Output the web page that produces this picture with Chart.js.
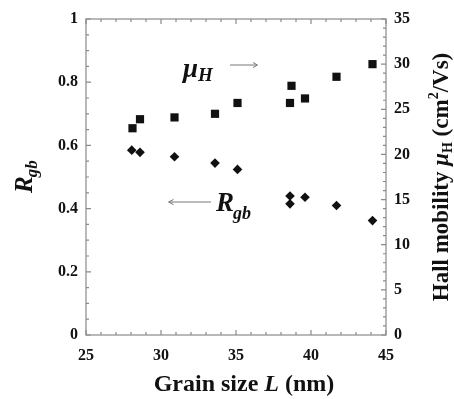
<!DOCTYPE html>
<html><head><meta charset="utf-8">
<script src="https://cdn.jsdelivr.net/npm/chart.js@4.4.1/dist/chart.umd.min.js"></script>
<style>html,body{margin:0;padding:0;background:#fff}#wrap{width:454px;height:399px}</style>
</head><body><div id="wrap"><canvas id="c" width="454" height="399"></canvas></div>
<script>
// Grain size L (nm)
const grainSize = [28.1, 28.6, 30.9, 33.6, 35.1, 38.6, 38.7, 39.6, 41.7, 44.1];
// Hall mobility (cm^2/Vs), right axis
const mobility = [22.9, 23.9, 24.1, 24.5, 25.7, 25.7, 27.6, 26.2, 28.6, 30.0];
// grain-boundary ratio R_gb, left axis
const grainSizeR = [28.05, 28.6, 30.9, 33.6, 35.1, 38.6, 38.6, 39.6, 41.7, 44.1];
const rgb = [0.585, 0.578, 0.564, 0.544, 0.524, 0.440, 0.415, 0.436, 0.410, 0.362];
const xTicks = [25, 30, 35, 40, 45];
const leftTicks = [0, 0.2, 0.4, 0.6, 0.8, 1];
const rightTicks = [0, 5, 10, 15, 20, 25, 30, 35];

const SERIF = '"Liberation Serif","Times New Roman",serif';
const FRAME = '#8a8a8a';

const framePlugin = {
  id: 'frame',
  afterDraw(chart) {
    const ctx = chart.ctx, a = chart.chartArea;
    const sx = chart.scales.x, sy = chart.scales.y, sy2 = chart.scales.y2;
    ctx.save();
    ctx.strokeStyle = FRAME; ctx.lineWidth = 1.2;
    ctx.strokeRect(a.left, a.top, a.right - a.left, a.bottom - a.top);
    ctx.beginPath();
    for (let v = 25; v <= 45.001; v += 1) {
      const p = sx.getPixelForValue(v);
      const len = (Math.abs(v % 5) < 0.01) ? 5 : 3;
      ctx.moveTo(p, a.bottom); ctx.lineTo(p, a.bottom - len);
      ctx.moveTo(p, a.top); ctx.lineTo(p, a.top + len);
    }
    for (let i = 0; i <= 20; i++) {
      const v = i * 0.05, p = sy.getPixelForValue(v);
      const len = (i % 4 === 0) ? 5 : 3;
      ctx.moveTo(a.left, p); ctx.lineTo(a.left + len, p);
    }
    for (let v = 0; v <= 35; v++) {
      const p = sy2.getPixelForValue(v);
      const len = (v % 5 === 0) ? 5 : 3;
      ctx.moveTo(a.right, p); ctx.lineTo(a.right - len, p);
    }
    ctx.stroke();

    // axis titles
    ctx.fillStyle = '#111';
    ctx.textBaseline = 'alphabetic';
    // x title
    const parts = [
      {t: 'Grain size ', f: 'bold 24px ' + SERIF},
      {t: 'L', f: 'italic bold 24px ' + SERIF},
      {t: ' (nm)', f: 'bold 24px ' + SERIF}
    ];
    let w = 0;
    parts.forEach(p => { ctx.font = p.f; p.w = ctx.measureText(p.t).width; w += p.w; });
    let x = 244 - w / 2;
    parts.forEach(p => { ctx.font = p.f; ctx.fillText(p.t, x, 391); x += p.w; });

    // left title R_gb
    ctx.save();
    ctx.translate(32, 193);
    ctx.rotate(-Math.PI / 2);
    ctx.font = 'italic bold 25px ' + SERIF;
    ctx.fillText('R', 0, 0);
    let rw = ctx.measureText('R').width;
    ctx.font = 'italic bold 17px ' + SERIF;
    ctx.fillText('gb', rw - 1, 5);
    ctx.restore();

    // right title
    ctx.save();
    ctx.translate(448, 177);
    ctx.rotate(-Math.PI / 2);
    const rp = [
      {t: 'Hall mobility ', f: 'bold 23px ' + SERIF, dy: 0},
      {t: '\u03BC', f: 'italic bold 23px ' + SERIF, dy: 0},
      {t: 'H', f: 'bold 14px ' + SERIF, dy: 4},
      {t: ' (cm', f: 'bold 23px ' + SERIF, dy: 0},
      {t: '2', f: 'bold 14px ' + SERIF, dy: -10},
      {t: '/Vs)', f: 'bold 23px ' + SERIF, dy: 0}
    ];
    let tw = 0;
    rp.forEach(p => { ctx.font = p.f; p.w = ctx.measureText(p.t).width; tw += p.w; });
    let rx = -tw / 2;
    rp.forEach(p => { ctx.font = p.f; ctx.fillText(p.t, rx, p.dy); rx += p.w; });
    ctx.restore();

    // annotations
    ctx.font = 'italic bold 27px ' + SERIF;
    ctx.fillText('\u03BC', 183, 77);
    let mw = ctx.measureText('\u03BC').width;
    ctx.font = 'italic bold 19px ' + SERIF;
    ctx.fillText('H', 183 + mw, 81);

    ctx.font = 'italic bold 27px ' + SERIF;
    ctx.fillText('R', 216, 211);
    let rw2 = ctx.measureText('R').width;
    ctx.font = 'italic bold 18px ' + SERIF;
    ctx.fillText('gb', 216 + rw2 - 1, 219);

    ctx.strokeStyle = '#777'; ctx.lineWidth = 1;
    ctx.beginPath();
    ctx.moveTo(230, 65); ctx.lineTo(257, 65);
    ctx.moveTo(253, 62.5); ctx.lineTo(257.5, 65); ctx.lineTo(253, 67.5);
    ctx.moveTo(169, 202); ctx.lineTo(211, 202);
    ctx.moveTo(173.5, 199.5); ctx.lineTo(168.5, 202); ctx.lineTo(173.5, 204.5);
    ctx.stroke();
    ctx.restore();
  }
};

const tickFont = {family: SERIF, size: 16, weight: 'bold'};

new Chart(document.getElementById('c'), {
  type: 'scatter',
  data: {
    datasets: [
      {
        label: 'Hall mobility',
        data: grainSize.map((v, i) => ({x: v, y: mobility[i]})),
        yAxisID: 'y2',
        pointStyle: 'rect',
        pointRadius: 5.8,
        backgroundColor: '#111',
        borderColor: '#111',
        borderWidth: 0
      },
      {
        label: 'Rgb',
        data: grainSizeR.map((v, i) => ({x: v, y: rgb[i]})),
        yAxisID: 'y',
        pointStyle: 'rectRot',
        pointRadius: 4.8,
        backgroundColor: '#111',
        borderColor: '#111',
        borderWidth: 0
      }
    ]
  },
  options: {
    responsive: false,
    animation: false,
    devicePixelRatio: 1,
    layout: {padding: {top: 19, left: 0, right: 0, bottom: 0}},
    plugins: {legend: {display: false}, tooltip: {enabled: false}},
    scales: {
      x: {
        type: 'linear', min: 25, max: 45,
        afterBuildTicks: s => { s.ticks = xTicks.map(v => ({value: v})); },
        ticks: {font: tickFont, color: '#111', padding: 11},
        grid: {display: false, drawTicks: false},
        border: {display: false},
        afterFit: s => { s.height = 64; }
      },
      y: {
        type: 'linear', position: 'left', min: 0, max: 1,
        afterBuildTicks: s => { s.ticks = leftTicks.map(v => ({value: v})); },
        ticks: {font: tickFont, color: '#111', padding: 8, callback: v => String(Math.round(v * 10) / 10)},
        grid: {display: false, drawTicks: false},
        border: {display: false},
        afterFit: s => { s.width = 86; }
      },
      y2: {
        type: 'linear', position: 'right', min: 0, max: 35,
        afterBuildTicks: s => { s.ticks = rightTicks.map(v => ({value: v})); },
        ticks: {font: tickFont, color: '#111', padding: 8},
        grid: {display: false, drawTicks: false},
        border: {display: false},
        afterFit: s => { s.width = 68; }
      }
    }
  },
  plugins: [framePlugin]
});
</script>
</body></html>
